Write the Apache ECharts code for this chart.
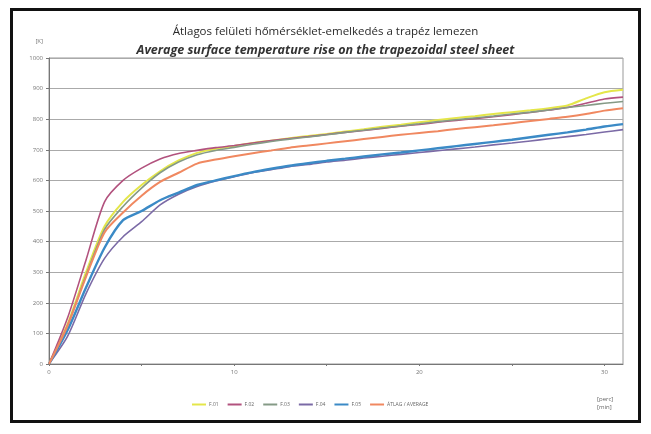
<!DOCTYPE html>
<html>
<head>
<meta charset="utf-8">
<script src="https://cdn.jsdelivr.net/npm/echarts@6/dist/echarts.min.js"></script>
<style>
  html, body { margin: 0; padding: 0; background: #fff; }
  #chart { width: 651px; height: 434px; }
</style>
</head>
<body>
<div id="chart"></div>
<script>
// Time axis in minutes
const minutes = [0,1,2,3,4,5,6,7,8,9,10,11,12,13,14,15,16,17,18,19,20,21,22,23,24,25,26,27,28,29,30,31];

// Surface temperature rise [K] per measuring point
const f01 = [0,130,300,450,530,585,630,665,690,703,712,722,730,738,745,752,760,767,775,782,790,797,804,810,817,823,829,836,845,868,888,896];
const f02 = [0,150,340,530,600,640,670,688,698,707,714,722,730,737,743,750,757,763,770,777,783,790,796,802,808,815,822,830,838,852,866,872];
const f03 = [0,125,290,440,515,575,625,660,684,698,708,718,727,735,742,749,757,764,771,778,785,792,798,804,810,817,823,830,838,845,852,858];
const f04 = [0,90,230,345,416,465,520,555,580,598,612,625,635,645,652,660,666,673,679,685,691,697,703,709,716,722,729,736,743,750,758,766];
const f05 = [0,110,250,380,470,500,535,560,585,600,614,627,638,648,656,664,671,678,685,691,698,705,712,719,726,733,741,749,757,766,776,784];
const atlag = [0,125,285,430,495,550,595,625,655,668,679,689,698,707,714,721,728,735,742,749,755,761,768,774,780,787,794,801,808,817,828,836];

const seriesNames = ['F.01', 'F.02', 'F.03', 'F.04', 'F.05', 'ÁTLAG / AVERAGE'];
const seriesValues = [f01, f02, f03, f04, f05, atlag];
const seriesColors = ['#e4e64a', '#b2527e', '#859a86', '#7b6aa6', '#3b8ac6', '#f08860'];
const seriesWidths = [2, 1.6, 1.6, 1.6, 2.4, 2];

const yTicks = [0,100,200,300,400,500,600,700,800,900,1000];

const chart = echarts.init(document.getElementById('chart'), null, { renderer: 'canvas' });

const series = seriesNames.map((name, i) => ({
  name: name,
  type: 'line',
  data: minutes.map((m, k) => [m, seriesValues[i][k]]),
  showSymbol: false,
  smooth: 0.25,
  lineStyle: { color: seriesColors[i], width: seriesWidths[i] },
  itemStyle: { color: seriesColors[i] },
  z: 2 + i
}));

chart.setOption({
  animation: false,
  backgroundColor: '#fff',
  title: [
    {
      text: 'Átlagos felületi hőmérséklet-emelkedés a trapéz lemezen',
      left: 'center', top: 21,
      textStyle: { fontFamily: 'Open Sans', fontSize: 11.5, fontWeight: 'normal', color: '#2a2a2a' }
    },
    {
      text: 'Average surface temperature rise on the trapezoidal steel sheet',
      left: 'center', top: 39,
      textStyle: { fontFamily: 'Open Sans', fontSize: 12.5, fontWeight: 'bold', fontStyle: 'italic', color: '#333' }
    }
  ],
  legend: {
    data: seriesNames,
    bottom: 22,
    left: 187,
    itemWidth: 14,
    itemHeight: 2,
    itemGap: 9,
    icon: 'rect',
    textStyle: { fontFamily: 'Open Sans', fontSize: 5, color: '#666', padding: [0, 0, 0, -2] }
  },
  grid: {
    left: 49, right: 28, top: 58, bottom: 70,
    show: true, borderColor: '#999', borderWidth: 1
  },
  xAxis: {
    type: 'value',
    min: 0, max: 31, interval: 5,
    axisLine: { show: true, onZero: false, lineStyle: { color: '#777', width: 1 } },
    axisTick: { show: true, length: 2, inside: false, lineStyle: { color: '#777' } },
    splitLine: { show: false },
    axisLabel: {
      fontFamily: 'Open Sans', fontSize: 6, color: '#777', margin: 5,
      showMaxLabel: false,
      formatter: v => (v % 10 === 0 ? String(v) : '')
    }
  },
  yAxis: {
    type: 'value',
    min: 0, max: 1000, interval: 100,
    name: '[K]', nameGap: 14,
    nameTextStyle: { fontFamily: 'Open Sans', fontSize: 6, color: '#777', align: 'right', padding: [0, 6, 0, 0] },
    axisLine: { show: true, lineStyle: { color: '#777', width: 1 } },
    axisTick: { show: true, length: 3, lineStyle: { color: '#777' } },
    splitLine: { show: true, lineStyle: { color: '#aaa', width: 1 } },
    axisLabel: {
      fontFamily: 'Open Sans', fontSize: 6, color: '#777', margin: 6,
      formatter: v => (yTicks.indexOf(v) >= 0 ? String(v) : '')
    }
  },
  graphic: [
    {
      type: 'rect',
      shape: { x: 11.5, y: 9.5, width: 628, height: 412 },
      style: { fill: null, stroke: '#111', lineWidth: 3 },
      z: 100
    },
    {
      type: 'text',
      left: 597, top: 395,
      style: { text: '[perc]\n[min]', font: '6px "Open Sans"', fill: '#666', lineHeight: 8 }
    }
  ],
  series: series
});
</script>
</body>
</html>
